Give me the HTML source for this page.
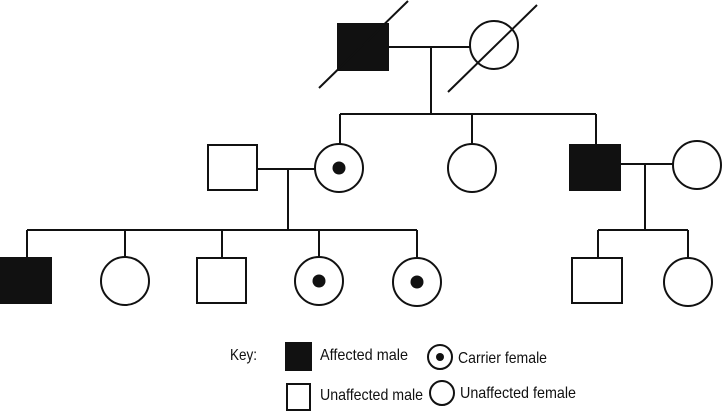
<!DOCTYPE html>
<html><head><meta charset="utf-8"><style>body{margin:0;background:#fff}svg{display:block}</style></head><body>
<svg width="722" height="412" viewBox="0 0 722 412" xmlns="http://www.w3.org/2000/svg" font-family="Liberation Sans, sans-serif" font-size="16" fill="none" stroke="#111" stroke-width="2">
<!-- Gen1 -->
<rect x="338" y="24" width="50" height="46" fill="#111"/>
<circle cx="494" cy="45" r="24"/>
<line x1="319" y1="88" x2="408" y2="1"/>
<line x1="448" y1="92" x2="537" y2="5"/>
<line x1="388" y1="47" x2="470" y2="47"/>
<line x1="431" y1="47" x2="431" y2="114"/>
<line x1="340" y1="114" x2="596" y2="114"/>
<line x1="340" y1="114" x2="340" y2="144"/>
<line x1="472" y1="114" x2="472" y2="144"/>
<line x1="596" y1="114" x2="596" y2="145"/>
<!-- Gen2 -->
<rect x="208" y="145" width="49" height="45"/>
<circle cx="339" cy="168" r="24"/>
<circle cx="339" cy="168" r="6.5" fill="#111" stroke="none"/>
<line x1="257" y1="169" x2="315" y2="169"/>
<line x1="288" y1="169" x2="288" y2="230"/>
<circle cx="472" cy="168" r="24"/>
<rect x="570" y="145" width="50" height="45" fill="#111"/>
<circle cx="697" cy="165" r="24"/>
<line x1="620" y1="164" x2="673" y2="164"/>
<line x1="645" y1="164" x2="645" y2="230"/>
<!-- Gen3 -->
<line x1="27" y1="230" x2="417" y2="230"/>
<line x1="27" y1="230" x2="27" y2="258"/>
<line x1="125" y1="230" x2="125" y2="257"/>
<line x1="222" y1="230" x2="222" y2="258"/>
<line x1="319" y1="230" x2="319" y2="257"/>
<line x1="417" y1="230" x2="417" y2="257"/>
<rect x="0" y="258" width="51" height="45" fill="#111"/>
<circle cx="125" cy="281" r="24"/>
<rect x="197" y="258" width="49" height="45"/>
<circle cx="319" cy="281" r="24"/>
<circle cx="319" cy="281" r="6.5" fill="#111" stroke="none"/>
<circle cx="417" cy="282" r="24"/>
<circle cx="417" cy="282" r="6.5" fill="#111" stroke="none"/>
<line x1="598" y1="230" x2="688" y2="230"/>
<line x1="598" y1="230" x2="598" y2="258"/>
<line x1="688" y1="230" x2="688" y2="258"/>
<rect x="572" y="258" width="50" height="45"/>
<circle cx="688" cy="282" r="24"/>
<!-- Key -->
<rect x="286" y="343" width="25" height="27" fill="#111"/>
<rect x="287" y="384" width="23" height="26"/>
<circle cx="440" cy="357" r="12"/>
<circle cx="440" cy="357" r="4" fill="#111" stroke="none"/>
<circle cx="442" cy="393" r="12"/>
<g fill="#111" stroke="none">
<text x="230" y="360" textLength="27" lengthAdjust="spacingAndGlyphs">Key:</text>
<text x="320" y="360" textLength="88" lengthAdjust="spacingAndGlyphs">Affected male</text>
<text x="458" y="363" textLength="89" lengthAdjust="spacingAndGlyphs">Carrier female</text>
<text x="320" y="400" textLength="103" lengthAdjust="spacingAndGlyphs">Unaffected male</text>
<text x="460" y="398" textLength="116" lengthAdjust="spacingAndGlyphs">Unaffected female</text>
</g>
</svg>
</body></html>
